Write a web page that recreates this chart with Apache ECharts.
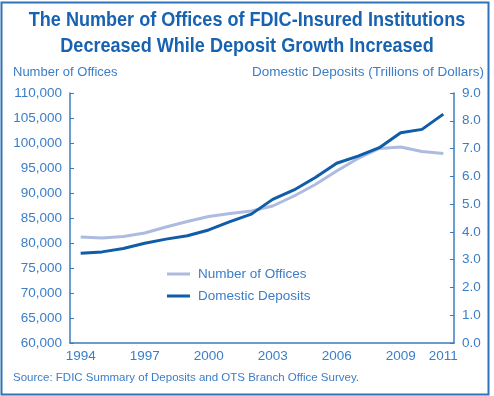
<!DOCTYPE html>
<html>
<head>
<meta charset="utf-8">
<script src="https://cdn.jsdelivr.net/npm/echarts@6/dist/echarts.min.js"></script>
<style>
  html, body { margin: 0; padding: 0; background: #fff; }
  #chart { width: 494px; height: 396px; }
</style>
</head>
<body>
<div id="chart"></div>
<script>
// data
const years = ["1994", "1995", "1996", "1997", "1998", "1999", "2000", "2001", "2002",
  "2003", "2004", "2005", "2006", "2007", "2008", "2009", "2010", "2011"];
const offices = [81200, 81000, 81300, 82000, 83200, 84300, 85300, 85900, 86400,
  87400, 89400, 91700, 94400, 96900, 98900, 99200, 98300, 97900];
const deposits = [3.23, 3.28, 3.40, 3.59, 3.74, 3.86, 4.07, 4.37, 4.64,
  5.17, 5.51, 5.96, 6.47, 6.73, 7.03, 7.57, 7.69, 8.24];
const shownYears = ["1994", "1997", "2000", "2003", "2006", "2009", "2011"];

const FONT = '"Liberation Sans", Arial, sans-serif';
const textBlue = "#3b7dc6";
const axisBlue = "#3a7cc0";

const chart = echarts.init(document.getElementById("chart"));
const option = {
  animation: false,
  legend: {
    orient: "vertical",
    left: 162,
    top: 262,
    itemWidth: 23,
    itemHeight: 3,
    itemGap: 8,
    icon: "rect",
    textStyle: { fontFamily: FONT, fontSize: 13.5, color: textBlue, padding: [0, 0, 0, 3] },
    data: ["Number of Offices", "Domestic Deposits"],
  },
  grid: { left: 70, right: 40, top: 93, bottom: 53 },
  xAxis: {
    type: "category",
    data: years,
    boundaryGap: true,
    axisLine: { lineStyle: { color: axisBlue, width: 1.5 } },
    axisTick: { inside: true, length: 4, interval: 0, lineStyle: { color: axisBlue } },
    axisLabel: {
      interval: (i, v) => shownYears.includes(v),
      fontFamily: FONT,
      fontSize: 13.5,
      color: textBlue,
      margin: 6,
    },
  },
  yAxis: [
    {
      type: "value",
      min: 60000,
      max: 110000,
      interval: 5000,
      name: "Number of Offices",
      nameGap: 14,
      nameTextStyle: { fontFamily: FONT, fontSize: 13, color: textBlue, align: "left", padding: [0, 0, 0, -57] },
      axisLine: { show: true, lineStyle: { color: axisBlue, width: 1.5 } },
      axisTick: { show: true, inside: true, length: 4, lineStyle: { color: axisBlue } },
      splitLine: { show: false },
      axisLabel: {
        fontFamily: FONT,
        fontSize: 13.5,
        color: textBlue,
        margin: 8,
        formatter: (v) => v.toLocaleString("en-US"),
      },
    },
    {
      type: "value",
      min: 0,
      max: 9,
      interval: 1,
      name: "Domestic Deposits (Trillions of Dollars)",
      nameGap: 14,
      nameTextStyle: { fontFamily: FONT, fontSize: 13.5, color: textBlue, align: "right", padding: [0, -30, 0, 0] },
      axisLine: { show: true, lineStyle: { color: axisBlue, width: 1.5 } },
      axisTick: { show: true, inside: true, length: 4, lineStyle: { color: axisBlue } },
      splitLine: { show: false },
      axisLabel: {
        fontFamily: FONT,
        fontSize: 13.5,
        color: textBlue,
        margin: 8,
        formatter: (v) => v.toFixed(1),
      },
    },
  ],
  series: [
    {
      name: "Number of Offices",
      type: "line",
      yAxisIndex: 0,
      data: offices,
      symbol: "none",
      lineStyle: { color: "#adbbe0", width: 3 },
      itemStyle: { color: "#adbbe0" },
    },
    {
      name: "Domestic Deposits",
      type: "line",
      yAxisIndex: 1,
      data: deposits,
      symbol: "none",
      lineStyle: { color: "#0f5ca8", width: 3 },
      itemStyle: { color: "#0f5ca8" },
    },
  ],
  graphic: [
    {
      type: "rect",
      shape: { x: 1.5, y: 2.5, width: 487, height: 392 },
      style: { fill: "none", stroke: "#2f74b8", lineWidth: 2 },
      silent: true,
    },
    // title, squeezed to look like the condensed face of the original
    {
      type: "text",
      x: 247,
      y: 7,
      scaleX: 0.86,
      style: {
        text: "The Number of Offices of FDIC-Insured Institutions\nDecreased While Deposit Growth Increased",
        textAlign: "center",
        fontFamily: FONT,
        fontSize: 21,
        fontWeight: "bold",
        lineHeight: 26,
        fill: "#1762b1",
      },
    },
    {
      type: "text",
      left: 13,
      top: 372,
      style: {
        text: "Source: FDIC Summary of Deposits and OTS Branch Office Survey.",
        fontFamily: FONT,
        fontSize: 11.5,
        fill: textBlue,
      },
    },
  ],
};
chart.setOption(option);
</script>
</body>
</html>
